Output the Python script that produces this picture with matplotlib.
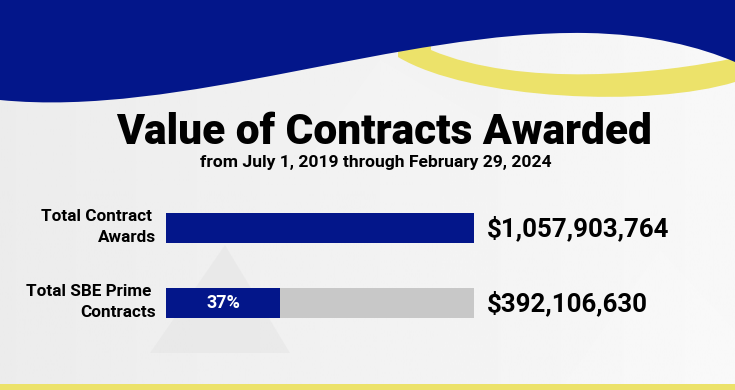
import numpy as np
import matplotlib.pyplot as plt
from matplotlib.path import Path
from matplotlib.patches import PathPatch, Polygon

# - - - - - - - - - - - - - - - - - - - - - - - - - - - - - - - - -
# DATA
# - - - - - - - - - - - - - - - - - - - - - - - - - - - - - - - - -

title = 'Value of Contracts Awarded'
subtitle = 'from July 1, 2019 through February 29, 2024'

categories = ['Total Contract \nAwards', 'Total SBE Prime \nContracts']
values = [1057903764, 392106630]
value_labels = ['$1,057,903,764', '$392,106,630']
share_labels = ['', '37%']

NAVY = '#03168A'
YELLOW = '#ECE26A'
GREY = '#C8C8C8'

plt.rcParams['font.family'] = ['Roboto', 'DejaVu Sans']

fig = plt.figure(figsize=(7.35, 3.9), dpi=100)

# - - - - - - - - - - - - - - - - - - - - - - - - - - - - - - - - -
# BACKGROUND (pixel coordinates)
# - - - - - - - - - - - - - - - - - - - - - - - - - - - - - - - - -

bg = fig.add_axes([0, 0, 1, 1])
bg.set_xlim(0, 735)
bg.set_ylim(390, 0)
bg.axis('off')

grad = np.linspace(0.925, 0.972, 256)[None, :]
bg.imshow(grad, cmap='gray', vmin=0, vmax=1, extent=[0, 735, 390, 0],
          aspect='auto', zorder=0)

# faint triangles
tris = [
    [(560, 390), (660, 250), (735, 330), (735, 390)],
    [(380, 60), (500, 130), (300, 170)],
]
for t in tris:
    bg.add_patch(Polygon(t, closed=True, color='white', alpha=0.15, lw=0, zorder=1))
bg.add_patch(Polygon([(150, 353), (225, 245), (290, 353)], closed=True,
                     color='#D8D8D8', alpha=0.25, lw=0, zorder=1))

# yellow crescent
yv = [(735, 82), (650, 108), (470, 100), (398, 57),
      (398, 20), (431, 20),
      (431, 50), (520, 88), (660, 74), (735, 58),
      (735, 82)]
yc = [Path.MOVETO, Path.CURVE4, Path.CURVE4, Path.CURVE4,
      Path.LINETO, Path.LINETO,
      Path.LINETO, Path.CURVE4, Path.CURVE4, Path.CURVE4,
      Path.CLOSEPOLY]
bg.add_patch(PathPatch(Path(yv, yc), facecolor=YELLOW, lw=0, zorder=2))

# navy wave
nv = [(0, 100), (180, 118), (400, 30), (586, 33),
      (650, 34), (700, 47), (735, 62),
      (735, 0), (0, 0), (0, 100)]
nc = [Path.MOVETO, Path.CURVE4, Path.CURVE4, Path.CURVE4,
      Path.CURVE4, Path.CURVE4, Path.CURVE4,
      Path.LINETO, Path.LINETO, Path.CLOSEPOLY]
bg.add_patch(PathPatch(Path(nv, nc), facecolor=NAVY, lw=0, zorder=3))

# bottom strip
bg.add_patch(Polygon([(0, 384), (735, 384), (735, 390), (0, 390)],
                     closed=True, color=YELLOW, lw=0, zorder=3))

# titles
bg.text(384, 132, title, ha='center', va='center', fontsize=30.5,
        fontweight='black', color='black', zorder=4)
bg.text(376, 163, subtitle, ha='center', va='center', fontsize=12.6,
        fontweight='bold', color='black', zorder=4)

# - - - - - - - - - - - - - - - - - - - - - - - - - - - - - - - - -
# BARS
# - - - - - - - - - - - - - - - - - - - - - - - - - - - - - - - - -

ax = fig.add_axes([166 / 735, 1 - 330 / 390, 308 / 735, 130 / 390])
ax.patch.set_alpha(0)
ax.axis('off')
total = values[0]
ax.set_xlim(0, total)
ax.set_ylim(-0.373 + 1.733, -0.373)

ypos = np.arange(len(categories))
ax.barh(ypos, [total] * len(values), height=0.4, color=GREY)
ax.barh(ypos, values, height=0.4, color=NAVY)

for i in ypos:
    ax.annotate(categories[i], xy=(0, i), xytext=(-10, 1), textcoords='offset pixels',
                ha='right', va='center', fontsize=12.3, fontweight='bold',
                linespacing=1.55, annotation_clip=False)
    ax.annotate(value_labels[i], xy=(total, i), xytext=(13, 0), textcoords='offset pixels',
                ha='left', va='center', fontsize=18.6, fontweight='bold',
                annotation_clip=False)
    if share_labels[i]:
        ax.text(values[i] / 2, i, share_labels[i], ha='center', va='center',
                fontsize=13, fontweight='bold', color='white')

fig.savefig('out.png', dpi=100)
